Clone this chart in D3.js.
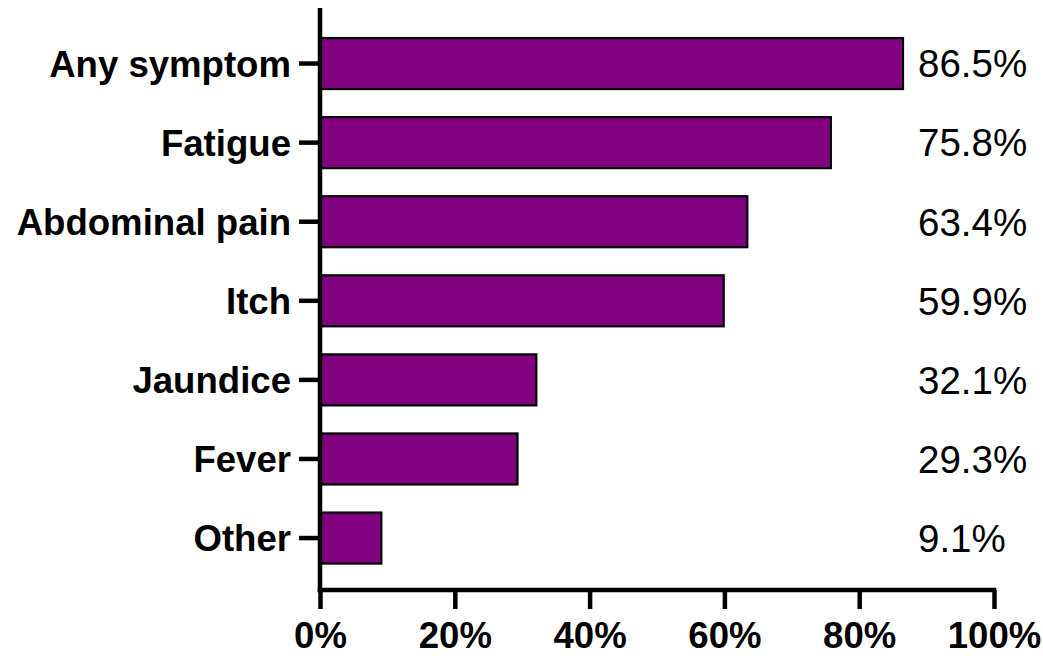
<!DOCTYPE html>
<html><head><meta charset="utf-8">
<script src="https://cdn.jsdelivr.net/npm/d3@7"></script>
<style>body{margin:0;background:#fff}svg{display:block}</style>
</head><body>
<svg id="c" width="1043" height="656"></svg>
<script>
const categories = ["Any symptom","Fatigue","Abdominal pain","Itch","Jaundice","Fever","Other"];
const values = [86.5, 75.8, 63.4, 59.9, 32.1, 29.3, 9.1];
const valueLabels = ["86.5%","75.8%","63.4%","59.9%","32.1%","29.3%","9.1%"];
const xTicks = [0,20,40,60,80,100];
const xTickLabels = ["0%","20%","40%","60%","80%","100%"];

const svg = d3.select("#c");
const font = "'Liberation Sans', Arial, Helvetica, sans-serif";
const x = d3.scaleLinear().domain([0,100]).range([320,994]);
const y = d3.scaleBand().domain(categories).range([24,577.6]).paddingInner(0.355).paddingOuter(0.1775);
const axisY = 590, axisTop = 8, lw = 4.5;

// bars
svg.append("g").selectAll("rect").data(categories).join("rect")
  .attr("x", x(0)).attr("y", d=>y(d))
  .attr("width", (d,i)=>x(values[i])-x(0)).attr("height", y.bandwidth())
  .attr("fill","#800080").attr("stroke","#000").attr("stroke-width",2.2);

// value labels
svg.append("g").selectAll("text").data(categories).join("text")
  .attr("x", 918).attr("y", d=>y(d)+y.bandwidth()/2).attr("dy","0.36em")
  .attr("font-family",font).attr("font-size",38.5).attr("fill","#000")
  .text((d,i)=>valueLabels[i]);

// y axis
const gy = svg.append("g").attr("transform",`translate(${x(0)},0)`)
  .call(d3.axisLeft(y).tickSize(21).tickPadding(8).tickSizeOuter(0));
gy.select(".domain").remove();
gy.selectAll(".tick line").attr("stroke","#000").attr("stroke-width",lw);
gy.selectAll(".tick text").attr("font-family",font).attr("font-size",36.6).attr("font-weight","bold").attr("fill","#000").attr("dy","0.36em");

// x axis
const gx = svg.append("g").attr("transform",`translate(0,${axisY})`)
  .call(d3.axisBottom(x).tickValues(xTicks).tickFormat((d,i)=>xTickLabels[i]).tickSize(19).tickPadding(13).tickSizeOuter(0));
gx.select(".domain").remove();
gx.selectAll(".tick line").attr("stroke","#000").attr("stroke-width",lw);
gx.selectAll(".tick text").attr("font-family",font).attr("font-size",36.6).attr("font-weight","bold").attr("fill","#000");

// axis lines
svg.append("line").attr("x1",x(0)).attr("x2",x(0)).attr("y1",axisTop).attr("y2",axisY+lw/2)
  .attr("stroke","#000").attr("stroke-width",lw);
svg.append("line").attr("x1",x(0)-lw/2).attr("x2",x(100)+lw/2).attr("y1",axisY).attr("y2",axisY)
  .attr("stroke","#000").attr("stroke-width",lw);
</script>
</body></html>
